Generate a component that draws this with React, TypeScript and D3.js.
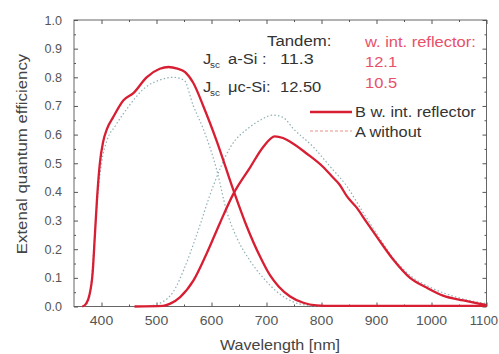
import React, { useEffect, useRef } from "react";
import * as d3 from "d3";

const xTicks = [400, 500, 600, 700, 800, 900, 1000, 1100];
const yTicks = [0, 0.1, 0.2, 0.3, 0.4, 0.5, 0.6, 0.7, 0.8, 0.9, 1.0];

const topBWl = [365, 370, 378, 384, 388, 392, 397, 403, 410, 421, 440, 458, 482, 506, 522, 538, 552, 567, 585, 609, 640, 664, 688, 706, 722, 743, 767, 791, 820, 900, 1000, 1100];
const topBQe = [0, 0.005, 0.04, 0.12, 0.25, 0.38, 0.5, 0.575, 0.62, 0.66, 0.72, 0.745, 0.8, 0.83, 0.836, 0.83, 0.818, 0.78, 0.7, 0.58, 0.405, 0.28, 0.175, 0.11, 0.07, 0.035, 0.013, 0.004, 0.002, 0.002, 0.002, 0.002];

const botBWl = [460, 512, 525, 543, 567, 591, 615, 640, 670, 694, 715, 730, 743, 773, 803, 821, 833, 846, 864, 880, 900, 930, 961, 991, 1021, 1058, 1094, 1100];
const botBQe = [0, 0.002, 0.01, 0.033, 0.09, 0.184, 0.29, 0.394, 0.485, 0.557, 0.594, 0.588, 0.575, 0.534, 0.487, 0.45, 0.425, 0.385, 0.345, 0.3, 0.245, 0.165, 0.1, 0.066, 0.038, 0.021, 0.007, 0.005];

const topAWl = [368, 378, 386, 392, 400, 410, 425, 450, 480, 505, 530, 550, 567, 585, 609, 628, 646, 670, 694, 720, 750, 780, 800];
const topAQe = [0, 0.03, 0.2, 0.36, 0.5, 0.58, 0.63, 0.7, 0.765, 0.79, 0.8, 0.79, 0.7, 0.62, 0.48, 0.33, 0.24, 0.16, 0.1, 0.05, 0.015, 0.003, 0];

const botAWl = [480, 510, 530, 550, 573, 603, 634, 670, 690, 712, 730, 749, 785, 815, 846, 875, 900, 930, 960, 1000, 1050, 1100];
const botAQe = [0, 0.015, 0.05, 0.13, 0.25, 0.42, 0.555, 0.627, 0.652, 0.668, 0.66, 0.62, 0.557, 0.49, 0.42, 0.33, 0.255, 0.17, 0.11, 0.065, 0.03, 0.01];

const RED = "#d81e32";
const GRAYDOT = "#8fb0b5";
const FONT = "'Liberation Sans', Arial, sans-serif";

function T(props: { x: number; y: number; size: number; sx?: number; fill?: string; anchor?: string; rotate?: number; children: React.ReactNode }) {
  const { x, y, size, sx = 1.1, fill = "#333", anchor = "start", rotate = 0, children } = props;
  return (
    <text
      transform={`translate(${x},${y}) rotate(${rotate}) scale(${sx},1)`}
      textAnchor={anchor}
      style={{ fontFamily: FONT, fontSize: size, fill }}
    >
      {children}
    </text>
  );
}

export default function App() {
  const ref = useRef<SVGSVGElement>(null);

  const x = d3.scaleLinear().domain([350, 1100]).range([74, 486.5]);
  const y = d3.scaleLinear().domain([0, 1]).range([306.5, 20]);

  const line = d3
    .line<[number, number]>()
    .x((d) => x(d[0]))
    .y((d) => y(d[1]))
    .curve(d3.curveMonotoneX);

  const zip = (a: number[], b: number[]) => a.map((v, i) => [v, b[i]] as [number, number]);

  useEffect(() => {
    const svg = d3.select(ref.current);
    svg.selectAll(".ax").remove();
    const g = svg.insert("g", ":first-child").attr("class", "ax");
    const tickColor = "#555";
    g.append("rect")
      .attr("x", x(350))
      .attr("y", y(1))
      .attr("width", x(1100) - x(350))
      .attr("height", y(0) - y(1))
      .attr("fill", "none")
      .attr("stroke", "#666")
      .attr("stroke-width", 1);
    const axes = [
      g.append("g").attr("transform", `translate(0,${y(0)})`).call(d3.axisBottom(x).tickValues(xTicks).tickSize(-4).tickFormat(() => "")),
      g.append("g").attr("transform", `translate(${x(350)},0)`).call(d3.axisLeft(y).tickValues(yTicks).tickSize(-4).tickFormat(() => "")),
      g.append("g").attr("transform", `translate(0,${y(1)})`).call(d3.axisTop(x).tickValues(xTicks).tickSize(-4).tickFormat(() => "")),
      g.append("g").attr("transform", `translate(${x(1100)},0)`).call(d3.axisRight(y).tickValues(yTicks).tickSize(-4).tickFormat(() => "")),
      g.append("g").attr("transform", `translate(0,${y(0)})`).call(d3.axisBottom(x).tickValues(d3.range(450, 1100, 100)).tickSize(-2).tickFormat(() => "")),
      g.append("g").attr("transform", `translate(0,${y(1)})`).call(d3.axisTop(x).tickValues(d3.range(450, 1100, 100)).tickSize(-2).tickFormat(() => "")),
      g.append("g").attr("transform", `translate(${x(350)},0)`).call(d3.axisLeft(y).tickValues(d3.range(0.05, 1, 0.1)).tickSize(-2).tickFormat(() => "")),
      g.append("g").attr("transform", `translate(${x(1100)},0)`).call(d3.axisRight(y).tickValues(d3.range(0.05, 1, 0.1)).tickSize(-2).tickFormat(() => "")),
    ];
    axes.forEach((a) => {
      a.select(".domain").remove();
      a.selectAll("line").attr("stroke", tickColor);
      a.selectAll("text").remove();
    });
  }, []);

  const fmtX = d3.format("d");
  const fmtY = d3.format(".1f");
  const RT = "#e8506a";
  const lastX = xTicks[xTicks.length - 1];

  return (
    <svg ref={ref} width={499} height={354} style={{ position: "absolute", left: 0, top: 0, background: "#fff" }}>
      <path d={line(zip(topAWl, topAQe)) || ""} fill="none" stroke={GRAYDOT} strokeWidth={1.2} strokeDasharray="1.5,2.2" />
      <path d={line(zip(botAWl, botAQe)) || ""} fill="none" stroke={GRAYDOT} strokeWidth={1.2} strokeDasharray="1.5,2.2" />
      <path d={line(zip(topBWl, topBQe)) || ""} fill="none" stroke={RED} strokeWidth={2.3} />
      <path d={line(zip(botBWl, botBQe)) || ""} fill="none" stroke={RED} strokeWidth={2.3} />

      {xTicks.map((t) =>
        t === lastX ? (
          <T key={"x" + t} x={498} y={325} size={12.5} sx={1.05} fill="#555" anchor="end">
            {fmtX(t)}
          </T>
        ) : (
          <T key={"x" + t} x={x(t)} y={325} size={12.5} sx={1.12} fill="#555" anchor="middle">
            {fmtX(t)}
          </T>
        )
      )}
      {yTicks.map((t) => (
        <T key={"y" + t} x={62} y={y(t) + 4.5} size={12} sx={1.05} fill="#555" anchor="end">
          {fmtY(t)}
        </T>
      ))}

      <T x={267} y={46} size={15} sx={1.12}>Tandem:</T>
      <T x={203} y={64} size={15}>J</T>
      <T x={210} y={68} size={9}>sc</T>
      <T x={228} y={64} size={15}>a-Si :</T>
      <T x={280} y={64} size={15} sx={1.2}>11.3</T>
      <T x={203} y={92} size={15}>J</T>
      <T x={210} y={96} size={9}>sc</T>
      <T x={228} y={92} size={15}>μc-Si:</T>
      <T x={280} y={92} size={15} sx={1.1}>12.50</T>

      <T x={365} y={47} size={15} sx={1.1} fill={RT}>w. int. reflector:</T>
      <T x={365} y={67} size={15} sx={1.1} fill={RT}>12.1</T>
      <T x={365} y={88} size={15} sx={1.1} fill={RT}>10.5</T>

      <line x1={310} x2={352} y1={112} y2={112} stroke={RED} strokeWidth={2.3} />
      <T x={355} y={117} size={15} sx={1.09}>B w. int. reflector</T>
      <line x1={310} x2={352} y1={131} y2={131} stroke="#e8908a" strokeWidth={1} strokeDasharray="3,2" />
      <T x={355} y={137} size={15} sx={1.09}>A without</T>

      <T x={280} y={350} size={14} sx={1.15} fill="#444" anchor="middle">Wavelength [nm]</T>
      <T x={27} y={154} size={14} sx={1.2} fill="#444" anchor="middle" rotate={-90}>Extenal quantum efficiency</T>
    </svg>
  );
}
